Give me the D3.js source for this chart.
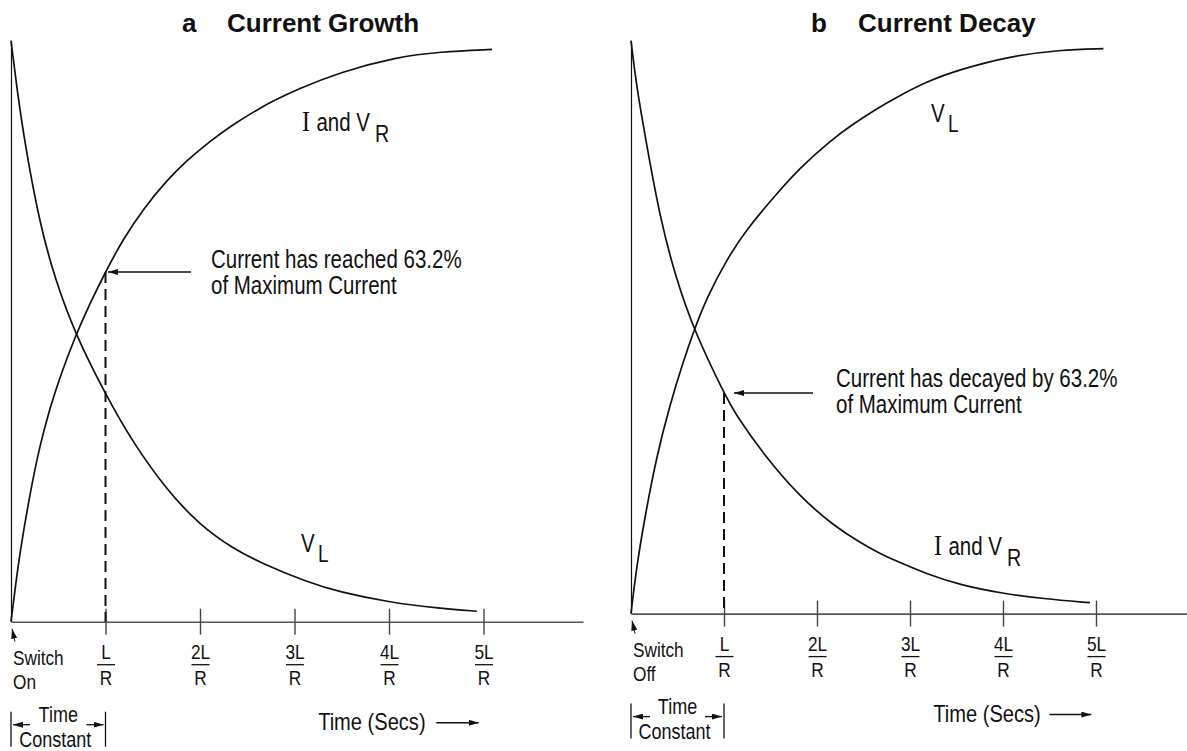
<!DOCTYPE html>
<html>
<head>
<meta charset="utf-8">
<script src="https://cdn.jsdelivr.net/npm/d3@7"></script>
<style>
  body { margin: 0; background: #fff; }
  text { font-family: "Liberation Sans", Arial, sans-serif; fill: #111; }
  .title { font-weight: bold; font-size: 26px; }
</style>
</head>
<body>
<svg id="chart" width="1187" height="751"></svg>
<script>
// time in units of L/R, values in % of maximum

// a - current growth
const growthT  = [0, 0.042, 0.095, 0.2, 0.307, 0.413, 0.519, 0.677, 0.836, 1.0, 1.185, 1.397, 1.651, 1.862, 2.106, 2.349, 2.635, 2.772, 3.026, 3.481, 4.085, 4.54, 5.09];
const growthI  = [0, 5.5, 12.0, 22.0, 30.5, 36.8, 42.2, 49.0, 54.8, 60.2, 65.8, 71.0, 76.0, 79.4, 82.7, 85.6, 88.4, 89.6, 91.6, 94.6, 97.2, 98.1, 98.5];
const growthVLT = [0, 0.06, 0.148, 0.307, 0.466, 0.677, 1.0, 1.291, 1.651, 2.0, 2.349, 2.635, 3.132, 3.48, 4.01, 4.54, 4.93];
const growthVL  = [100, 92.1, 82.1, 68.3, 59.0, 49.6, 39.1, 30.8, 22.6, 16.6, 12.6, 10.2, 6.8, 5.1, 3.3, 2.3, 1.8];

// b - current decay
const decayVLT = [0, 0.061, 0.151, 0.276, 0.419, 0.562, 0.677, 0.814, 1.029, 1.244, 1.567, 1.817, 2.14, 2.39, 2.68, 2.82, 3.18, 3.54, 4.075, 4.61, 5.08];
const decayVL  = [0, 8.3, 17.0, 27.5, 36.5, 44.0, 49.4, 55.1, 61.8, 67.1, 73.3, 77.8, 82.5, 85.5, 88.5, 89.8, 92.9, 95.0, 97.3, 98.4, 98.6];
const decayIT  = [0, 0.061, 0.169, 0.312, 0.473, 0.677, 1.0, 1.137, 1.459, 1.817, 2.175, 2.462, 2.677, 2.82, 3.18, 3.54, 4.0, 4.43, 4.935];
const decayI   = [100, 91.8, 81.8, 69.1, 59.1, 49.4, 38.5, 34.4, 27.1, 20.4, 15.4, 12.4, 10.5, 9.4, 6.9, 5.0, 3.5, 2.6, 1.9];

const tickValues = [1, 2, 3, 4, 5];
const tickNumerators = ["L", "2L", "3L", "4L", "5L"];

const svg = d3.select("#chart");
const squeeze = 0.82; // narrow sans look of the original lettering

svg.append("defs").append("marker")
    .attr("id", "head")
    .attr("viewBox", "0 0 10 6")
    .attr("refX", 10).attr("refY", 3)
    .attr("markerWidth", 10).attr("markerHeight", 6)
    .attr("markerUnits", "userSpaceOnUse")
    .attr("orient", "auto")
  .append("path")
    .attr("d", "M0,0 L10,3 L0,6 Z")
    .attr("fill", "#111");

function ntext(parent, x, y, size, str, anchor) {
  return parent.append("text")
    .attr("transform", `translate(${x},${y}) scale(${squeeze},1)`)
    .attr("text-anchor", anchor || "start")
    .style("font-size", size + "px")
    .text(str);
}

const panels = [
  { letter: "a", title: "Current Growth", letterX: 182, titleX: 227,
    x0: 11, step: 94.5, base: 621.7, top: 40.7, axisEnd: 583,
    rise: { t: growthT, v: growthI }, fall: { t: growthVLT, v: growthVL }, marked: "rise",
    note: ["Current has reached 63.2%", "of Maximum Current"], noteX: 211, noteY: 267.5, arrowFrom: 191, arrowTo: 108,
    switchWord: "On",
    riseLabel: { x: 302, y: 131, kind: "IR" }, fallLabel: { x: 301, y: 552, kind: "VL" } },
  { letter: "b", title: "Current Decay", letterX: 811, titleX: 858,
    x0: 631, step: 93, base: 613.6, top: 40.7, axisEnd: 1187,
    rise: { t: decayVLT, v: decayVL }, fall: { t: decayIT, v: decayI }, marked: "fall",
    note: ["Current has decayed by 63.2%", "of Maximum Current"], noteX: 836, noteY: 386.5, arrowFrom: 813, arrowTo: 734,
    switchWord: "Off",
    riseLabel: { x: 931, y: 122, kind: "VL" }, fallLabel: { x: 934, y: 555, kind: "IR" } }
];

function subLabel(g, lab) {
  const t = ntext(g, lab.x, lab.y, 25, "");
  if (lab.kind === "IR") {
    t.append("tspan").text("I")
      .style("font-family", "'Liberation Serif', 'Times New Roman', serif").style("font-size", "29px");
    t.append("tspan").attr("dx", 8).text("and V");
    t.append("tspan").attr("dx", 6).attr("dy", 11).style("font-size", "24px").text("R");
  } else {
    t.append("tspan").text("V");
    t.append("tspan").attr("dx", 4).attr("dy", 10).style("font-size", "23px").text("L");
  }
}

panels.forEach(p => {
  const g = svg.append("g");
  const x = d3.scaleLinear().domain([0, 5]).range([p.x0, p.x0 + 5 * p.step]);
  const y = d3.scaleLinear().domain([0, 100]).range([p.base, p.top]);
  const xAxisScale = x.copy().domain([0, x.invert(p.axisEnd)]).range([p.x0, p.axisEnd]);

  // titles
  g.append("text").attr("class", "title").attr("x", p.letterX).attr("y", 32).text(p.letter);
  g.append("text").attr("class", "title").attr("x", p.titleX).attr("y", 32).text(p.title);

  // vertical axis
  const yAx = g.append("g").attr("transform", `translate(${p.x0},0)`)
    .call(d3.axisLeft(y).tickValues([]).tickSizeOuter(0));
  yAx.select(".domain").attr("stroke", "#111").attr("stroke-width", 1.2);

  // time axis
  const xAx = g.append("g").attr("transform", `translate(0,${p.base})`)
    .call(d3.axisBottom(xAxisScale).tickValues(tickValues).tickSizeInner(13).tickSizeOuter(0).tickFormat(""));
  xAx.select(".domain").attr("stroke", "#555").attr("stroke-width", 1.6);
  xAx.selectAll(".tick line").attr("y1", -13).attr("stroke", "#444").attr("stroke-width", 1.4);
  xAx.selectAll(".tick").each(function (d, i) {
    const tk = d3.select(this);
    ntext(tk, 0, 37, 21, tickNumerators[i], "middle").attr("fill", "#111");
    tk.append("line").attr("x1", -9).attr("x2", 9).attr("y1", 43).attr("y2", 43)
      .attr("stroke", "#111").attr("stroke-width", 1.3);
    ntext(tk, 0, 63, 21, "R", "middle").attr("fill", "#111");
  });

  // curves
  const line = d3.line().x(d => x(d[0])).y(d => y(d[1])).curve(d3.curveBasis);
  [p.rise, p.fall].forEach(s => {
    g.append("path").datum(s.t.map((t, i) => [t, s.v[i]]))
      .attr("d", line).attr("fill", "none").attr("stroke", "#111").attr("stroke-width", 1.7);
  });

  // one time constant marker
  const ms = p[p.marked];
  const v1 = ms.v[ms.t.indexOf(1)];
  g.append("line").attr("x1", x(1)).attr("x2", x(1)).attr("y1", y(v1)).attr("y2", y(0))
    .attr("stroke", "#111").attr("stroke-width", 2).attr("stroke-dasharray", "11,6");
  g.append("line").attr("x1", p.arrowFrom).attr("x2", p.arrowTo).attr("y1", y(v1)).attr("y2", y(v1))
    .attr("stroke", "#111").attr("stroke-width", 1.5).attr("marker-end", "url(#head)");
  p.note.forEach((s, i) => ntext(g, p.noteX, p.noteY + i * 26.5, 25, s));

  // curve labels
  subLabel(g, p.riseLabel);
  subLabel(g, p.fallLabel);

  // switch marker
  g.append("line").attr("x1", p.x0 + 4).attr("y1", p.base + 20).attr("x2", p.x0 + 1).attr("y2", p.base + 7)
    .attr("stroke", "#111").attr("stroke-width", 1).attr("marker-end", "url(#head)");
  ntext(g, p.x0 + 2, p.base + 43, 21, "Switch");
  ntext(g, p.x0 + 2, p.base + 67, 21, p.switchWord);

  // time constant bracket
  const mid = (x(0) + x(1)) / 2;
  [0, 1].forEach(t => {
    g.append("line").attr("x1", x(t)).attr("x2", x(t)).attr("y1", p.base + 90).attr("y2", p.base + 125)
      .attr("stroke", "#111").attr("stroke-width", 1.3);
  });
  g.append("line").attr("x1", x(0) + 19).attr("x2", x(0) + 2).attr("y1", p.base + 103).attr("y2", p.base + 103)
    .attr("stroke", "#111").attr("stroke-width", 1.3).attr("marker-end", "url(#head)");
  g.append("line").attr("x1", x(1) - 19).attr("x2", x(1) - 2).attr("y1", p.base + 103).attr("y2", p.base + 103)
    .attr("stroke", "#111").attr("stroke-width", 1.3).attr("marker-end", "url(#head)");
  ntext(g, mid, p.base + 100, 22, "Time", "middle");
  ntext(g, mid - 3, p.base + 125, 22, "Constant", "middle");

  // time label
  ntext(g, x(3.25), p.base + 108, 24.5, "Time (Secs)");
  g.append("line").attr("x1", x(4.5)).attr("x2", x(4.95)).attr("y1", p.base + 101).attr("y2", p.base + 101)
    .attr("stroke", "#111").attr("stroke-width", 1.5).attr("marker-end", "url(#head)");
});
</script>
</body>
</html>
